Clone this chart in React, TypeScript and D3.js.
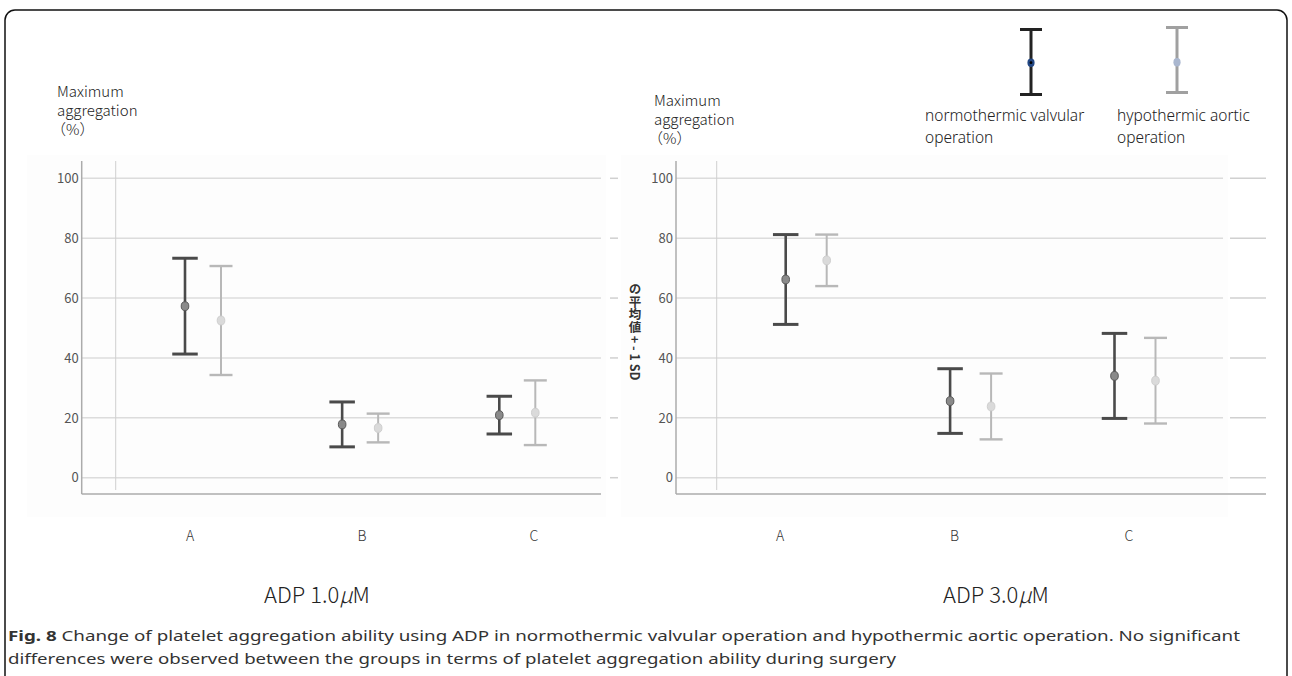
import React from 'react';
import * as d3 from 'd3';

// categories and group values (mean, SD)
const categories = ['A', 'B', 'C'];
const yTicks = [0, 20, 40, 60, 80, 100];

const adp1NormoMean = [57.3, 17.8, 20.9];
const adp1NormoSd = [16.0, 7.5, 6.3];
const adp1HypoMean = [52.5, 16.6, 21.7];
const adp1HypoSd = [18.2, 4.8, 10.8];

const adp3NormoMean = [66.2, 25.6, 34.0];
const adp3NormoSd = [15.0, 10.8, 14.2];
const adp3HypoMean = [72.6, 23.8, 32.4];
const adp3HypoSd = [8.6, 11.0, 14.3];

const W = 1292;
const H = 676;
const jpFont = '"Noto Sans CJK JP", "Noto Sans", sans-serif';

const y = d3.scaleLinear().domain([0, 100]).range([477.7, 178.3]);

const NORMO = { stroke: '#4a4a4a', width: 2.6, fill: '#8a8a8a', dot: '#5a5a5a' };
const HYPO = { stroke: '#b8b8b8', width: 2, fill: '#dadada', dot: '#cfcfcf' };

type PanelProps = {
  normoMean: number[]; normoSd: number[];
  hypoMean: number[]; hypoSd: number[];
  axisX: number; gridX: number; plotRight: number; axisRight: number;
  centers: [number, number]; offset: number;
  labelRange: [number, number]; title: string; titleX: number;
  dashes: [number, number][];
};

function ErrorBar({ cx, mean, sd, style, cap }: any) {
  const top = y(mean + sd);
  const bot = y(mean - sd);
  return (
    <g>
      <line x1={cx} x2={cx} y1={top} y2={bot} stroke={style.stroke} strokeWidth={style.width} />
      <line x1={cx - cap / 2} x2={cx + cap / 2} y1={top} y2={top} stroke={style.stroke} strokeWidth={style.width + 0.4} />
      <line x1={cx - cap / 2} x2={cx + cap / 2} y1={bot} y2={bot} stroke={style.stroke} strokeWidth={style.width + 0.4} />
      <ellipse cx={cx} cy={y(mean)} rx={3.8} ry={4.4} fill={style.fill} stroke={style.dot} strokeWidth={1} />
    </g>
  );
}

function Panel(p: PanelProps) {
  const x = d3.scalePoint<string>().domain(categories).range(p.centers);
  const xl = d3.scalePoint<string>().domain(categories).range(p.labelRange);
  const axisY = 494;
  return (
    <g>
      <rect x={p.axisX - 55} y={155} width={p.plotRight - p.axisX + 60} height={362} fill="#fdfdfd" />
      {/* gridlines */}
      {yTicks.map((t) => (
        <g key={t}>
          <line x1={p.axisX} x2={p.plotRight} y1={y(t)} y2={y(t)} stroke="#dcdcdc" strokeWidth={1.5} />
          {p.dashes.map((d, i) => (
            <line key={i} x1={d[0]} x2={d[1]} y1={y(t)} y2={y(t)} stroke={i === 0 ? '#d0d0d0' : '#ececec'} strokeWidth={1.5} />
          ))}
          <text x={p.axisX - 3} y={y(t)} dy="0.36em" textAnchor="end" fontSize={13} fill="#555" fontFamily={jpFont}>
            {t}
          </text>
        </g>
      ))}
      <line x1={p.gridX} x2={p.gridX} y1={161} y2={490} stroke="#cfcfcf" strokeWidth={1} />
      <line x1={p.axisX} x2={p.axisX} y1={161} y2={axisY} stroke="#ababab" strokeWidth={1.5} />
      <line x1={p.axisX} x2={p.axisRight} y1={axisY} y2={axisY} stroke="#ababab" strokeWidth={1.5} />
      {/* error bars */}
      {categories.map((c, i) => (
        <g key={c}>
          <ErrorBar cx={(x(c) as number) - p.offset} mean={p.normoMean[i]} sd={p.normoSd[i]} style={NORMO} cap={25.5} />
          <ErrorBar cx={(x(c) as number) + p.offset} mean={p.hypoMean[i]} sd={p.hypoSd[i]} style={HYPO} cap={23} />
        </g>
      ))}
      {/* category labels */}
      {categories.map((c) => (
        <text key={c} x={xl(c)} y={536} dy="0.35em" textAnchor="middle" fontSize={14} fontWeight={300} fill="#333" fontFamily={jpFont}>
          {c}
        </text>
      ))}
      <text x={p.titleX} y={595} dy="0.35em" textAnchor="middle" fontSize={22} fontWeight={300} fill="#222" fontFamily={jpFont}>
        {p.title}
        <tspan fontStyle="italic">μ</tspan>
        <tspan>M</tspan>
      </text>
    </g>
  );
}

function YTitle({ x, y0 }: { x: number; y0: number }) {
  const lines = ['Maximum', 'aggregation', '（%）'];
  return (
    <text x={x} y={y0} fontSize={15} fontWeight={300} fill="#222" fontFamily={jpFont}>
      {lines.map((l, i) => (
        <tspan key={i} x={i === 2 ? x - 6 : x} dy={i === 0 ? 0 : 19}>{l}</tspan>
      ))}
    </text>
  );
}

function LegendLabel({ x, lines }: { x: number; lines: string[] }) {
  return (
    <text x={x} y={121} fontSize={15.5} fontWeight={300} fill="#222" fontFamily='"Noto Sans", sans-serif'>
      {lines.map((l, i) => (
        <tspan key={i} x={x} dy={i === 0 ? 0 : 21.5}>{l}</tspan>
      ))}
    </text>
  );
}

export default function App() {
  return (
    <svg width={W} height={H} style={{ position: 'absolute', left: 0, top: 0, background: '#fff' }}>
      <rect x={5} y={10} width={1282} height={720} rx={10} ry={10} fill="#fff" stroke="#111" strokeWidth={1.5} />

      <Panel
        normoMean={adp1NormoMean} normoSd={adp1NormoSd}
        hypoMean={adp1HypoMean} hypoSd={adp1HypoSd}
        axisX={81.7} gridX={115.7} plotRight={601} axisRight={601}
        centers={[203, 517.3]} offset={18}
        labelRange={[190, 534]} title="ADP 1.0" titleX={317}
        dashes={[[610, 618], [622, 642]]}
      />
      <Panel
        normoMean={adp3NormoMean} normoSd={adp3NormoSd}
        hypoMean={adp3HypoMean} hypoSd={adp3HypoSd}
        axisX={676} gridX={716.7} plotRight={1223} axisRight={1266}
        centers={[806.2, 1135]} offset={20.5}
        labelRange={[780, 1129]} title="ADP 3.0" titleX={996}
        dashes={[[1230, 1266]]}
      />

      <YTitle x={57} y0={97} />
      <YTitle x={654} y0={106} />

      {/* vertical axis caption */}
      <text x={635} y={283} fontSize={12.5} fontWeight="bold" fill="#333" fontFamily={jpFont}
        style={{ writingMode: 'vertical-rl' } as any}>
        の平均値 + - 1 SD
      </text>

      {/* legend */}
      <g>
        <line x1={1031} x2={1031} y1={29.5} y2={94.5} stroke="#222" strokeWidth={3} />
        <line x1={1020} x2={1042} y1={29.5} y2={29.5} stroke="#222" strokeWidth={3} />
        <line x1={1020} x2={1042} y1={94.5} y2={94.5} stroke="#222" strokeWidth={3} />
        <ellipse cx={1031} cy={62.7} rx={3.6} ry={4.2} fill="#234784" />
        <circle cx={1031} cy={62.7} r={1.4} fill="#000" />
        <line x1={1177} x2={1177} y1={27.5} y2={92.5} stroke="#a0a0a0" strokeWidth={3} />
        <line x1={1166} x2={1188} y1={27.5} y2={27.5} stroke="#a0a0a0" strokeWidth={3} />
        <line x1={1166} x2={1188} y1={92.5} y2={92.5} stroke="#a0a0a0" strokeWidth={3} />
        <ellipse cx={1177} cy={62.3} rx={3.6} ry={4.2} fill="#aab7cf" />
        <LegendLabel x={925} lines={['normothermic valvular', 'operation']} />
        <LegendLabel x={1117} lines={['hypothermic aortic', 'operation']} />
      </g>

      {/* figure caption */}
      <text x={8} y={641} fontSize={15} fill="#333" fontFamily='"Noto Sans", sans-serif' textLength={1232} lengthAdjust="spacingAndGlyphs">
        <tspan fontWeight="bold">Fig. 8</tspan> Change of platelet aggregation ability using ADP in normothermic valvular operation and hypothermic aortic operation. No significant
      </text>
      <text x={8} y={664} fontSize={15} fill="#333" fontFamily='"Noto Sans", sans-serif' textLength={888} lengthAdjust="spacingAndGlyphs">
        differences were observed between the groups in terms of platelet aggregation ability during surgery
      </text>
    </svg>
  );
}
